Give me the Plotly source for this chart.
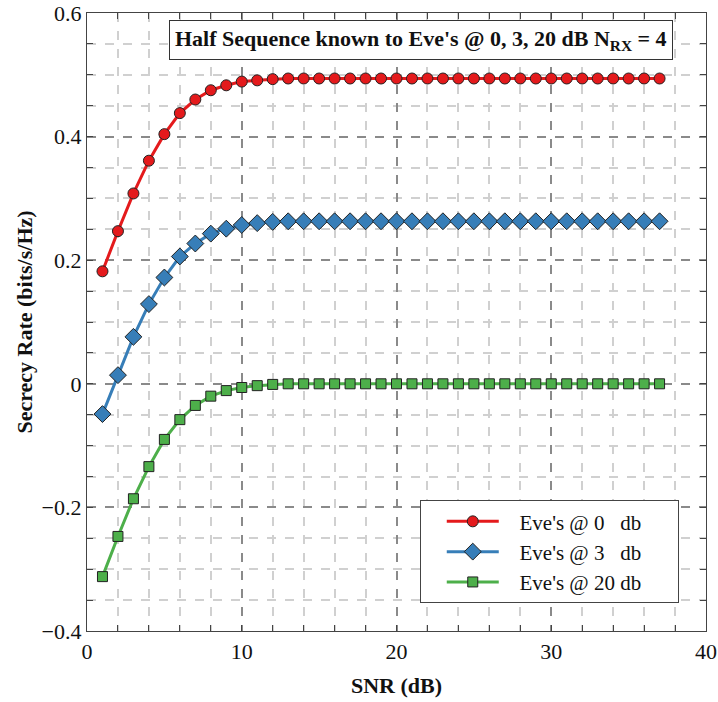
import plotly.graph_objects as go

snr = list(range(1, 38))

eve0 = [0.182, 0.247, 0.308, 0.361, 0.404, 0.438, 0.460, 0.475, 0.483, 0.489, 0.491, 0.493] + [0.494] * 25
eve3 = [-0.049, 0.014, 0.076, 0.129, 0.172, 0.206, 0.227, 0.243, 0.251, 0.257, 0.260, 0.262] + [0.263] * 25
eve20 = [-0.312, -0.247, -0.186, -0.134, -0.090, -0.058, -0.035, -0.020, -0.011, -0.006, -0.003, -0.001] + [0.0] * 25

NB = "\u00a0"
names = [NB * 3 + "Eve's @ 0" + NB * 3 + "db" + NB * 6,
         NB * 3 + "Eve's @ 3" + NB * 3 + "db" + NB * 6,
         NB * 3 + "Eve's @ 20 db" + NB * 6]
colors = ["#e41a1c", "#377eb8", "#4daf4a"]
symbols = ["circle", "diamond", "square"]
sizes = [11, 13, 10]

title_text = "Half Sequence known to Eve's @ 0, 3, 20 dB N<sub>RX</sub> = 4"

FONT = "Liberation Serif, Times New Roman, serif"

fig = go.Figure()
for y, n, c, s, sz in zip([eve0, eve3, eve20], names, colors, symbols, sizes):
    fig.add_trace(go.Scatter(
        x=snr, y=y, name=n, mode="lines+markers",
        line=dict(color=c, width=3),
        marker=dict(symbol=s, size=sz, color=c, line=dict(color="#222222", width=1)),
    ))

axis_common = dict(
    showline=True, linecolor="#444444", linewidth=1.2, mirror="ticks",
    ticks="inside", ticklen=6, tickcolor="#444444",
    showgrid=True, gridcolor="#8a8a8a", gridwidth=1.5, griddash="dash",
    zeroline=False, automargin=False,
    tickfont=dict(family=FONT, size=22, color="#111111"),
)

fig.update_xaxes(
    range=[0, 40], dtick=10, tick0=0,
    minor=dict(dtick=2, ticks="inside", ticklen=6, tickcolor="#444444",
               showgrid=True, gridcolor="#d0d0d0", gridwidth=1.5, griddash="dash"),
    title=dict(text="<b>SNR (dB)</b>", font=dict(family=FONT, size=22, color="#111111")),
    **axis_common,
)
fig.update_yaxes(
    range=[-0.4, 0.6], dtick=0.2, tick0=0,
    minor=dict(dtick=0.05, ticks="inside", ticklen=6, tickcolor="#444444",
               showgrid=True, gridcolor="#d0d0d0", gridwidth=1.5, griddash="dash"),
    title=dict(text="<b>Secrecy Rate (bits/s/Hz)</b>", font=dict(family=FONT, size=22, color="#111111"),
               standoff=2),
    **axis_common,
)

fig.add_annotation(
    x=0.54, y=0.956, xref="paper", yref="paper", xanchor="center", yanchor="middle",
    text="<b>" + title_text + "</b>", showarrow=False,
    font=dict(family=FONT, size=22, color="#111111"),
    bordercolor="#333333", borderwidth=1, borderpad=5, bgcolor="white",
)

fig.update_layout(
    width=718, height=702,
    margin=dict(l=87, r=12, t=13, b=71, autoexpand=False),
    plot_bgcolor="white", paper_bgcolor="white",
    legend=dict(
        x=0.956, y=0.045, xanchor="right", yanchor="bottom",
        bgcolor="white", bordercolor="#444444", borderwidth=1,
        font=dict(family=FONT, size=21, color="#111111"),
        tracegroupgap=0, indentation=21, itemwidth=52,
    ),
)

fig.write_html("out.html")
